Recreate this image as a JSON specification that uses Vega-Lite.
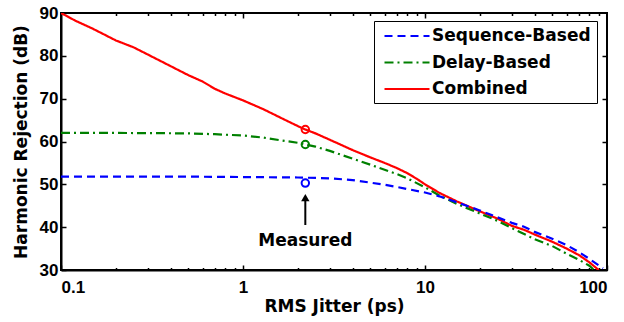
{
  "$schema": "https://vega.github.io/schema/vega-lite/v6.json",
  "autosize": {"type": "none"},
  "width": 546,
  "height": 257,
  "padding": {"left": 61, "top": 13, "right": 17, "bottom": 52},
  "background": "white",
  "config": {
    "view": {"stroke": "black", "strokeWidth": 2},
    "font": "DejaVu Sans",
    "axis": {"grid": false, "labelFont": "Liberation Sans", "labelFontWeight": "bold", "labelFontSize": 17, "labelColor": "black", "titleFont": "DejaVu Sans", "titleFontWeight": "bold", "titleFontSize": 17, "titleColor": "black", "domainColor": "black", "tickColor": "black", "tickWidth": 1.5, "domainWidth": 2}
  },
  "resolve": {"axis": {"x": "independent", "y": "independent"}},
  "datasets": {
    "curves": [
      {"series": "Combined", "x": 0.1, "y": 90},
      {"series": "Combined", "x": 0.12, "y": 88.2},
      {"series": "Combined", "x": 0.15, "y": 86.3},
      {"series": "Combined", "x": 0.2, "y": 83.6},
      {"series": "Combined", "x": 0.25, "y": 82},
      {"series": "Combined", "x": 0.3, "y": 80.3},
      {"series": "Combined", "x": 0.4, "y": 77.6},
      {"series": "Combined", "x": 0.5, "y": 75.5},
      {"series": "Combined", "x": 0.6, "y": 74},
      {"series": "Combined", "x": 0.7, "y": 72.3},
      {"series": "Combined", "x": 0.8, "y": 71.2},
      {"series": "Combined", "x": 1, "y": 69.6},
      {"series": "Combined", "x": 1.3, "y": 67.5},
      {"series": "Combined", "x": 1.6, "y": 65.6},
      {"series": "Combined", "x": 2, "y": 63.6},
      {"series": "Combined", "x": 2.2, "y": 62.8},
      {"series": "Combined", "x": 2.5, "y": 61.9},
      {"series": "Combined", "x": 3, "y": 60.4},
      {"series": "Combined", "x": 4, "y": 58},
      {"series": "Combined", "x": 5, "y": 56.3},
      {"series": "Combined", "x": 6, "y": 55},
      {"series": "Combined", "x": 7, "y": 53.8},
      {"series": "Combined", "x": 8, "y": 52.6},
      {"series": "Combined", "x": 9, "y": 51.3},
      {"series": "Combined", "x": 10, "y": 50},
      {"series": "Combined", "x": 12, "y": 48},
      {"series": "Combined", "x": 15, "y": 46},
      {"series": "Combined", "x": 20, "y": 43.7},
      {"series": "Combined", "x": 25, "y": 42},
      {"series": "Combined", "x": 30, "y": 40.3},
      {"series": "Combined", "x": 35, "y": 39.4},
      {"series": "Combined", "x": 40, "y": 38.3},
      {"series": "Combined", "x": 50, "y": 36.6},
      {"series": "Combined", "x": 60, "y": 35},
      {"series": "Combined", "x": 70, "y": 33.5},
      {"series": "Combined", "x": 80, "y": 31.8},
      {"series": "Combined", "x": 90, "y": 30},
      {"series": "Delay-Based", "x": 0.1, "y": 62},
      {"series": "Delay-Based", "x": 0.2, "y": 62},
      {"series": "Delay-Based", "x": 0.5, "y": 61.9},
      {"series": "Delay-Based", "x": 0.7, "y": 61.7},
      {"series": "Delay-Based", "x": 1, "y": 61.4},
      {"series": "Delay-Based", "x": 1.3, "y": 60.9},
      {"series": "Delay-Based", "x": 1.6, "y": 60.3},
      {"series": "Delay-Based", "x": 2, "y": 59.7},
      {"series": "Delay-Based", "x": 2.2, "y": 59.3},
      {"series": "Delay-Based", "x": 2.5, "y": 58.8},
      {"series": "Delay-Based", "x": 3, "y": 57.8},
      {"series": "Delay-Based", "x": 4, "y": 56},
      {"series": "Delay-Based", "x": 5, "y": 54.6},
      {"series": "Delay-Based", "x": 6, "y": 53.4},
      {"series": "Delay-Based", "x": 7, "y": 52.4},
      {"series": "Delay-Based", "x": 8, "y": 51.4},
      {"series": "Delay-Based", "x": 10, "y": 49.3},
      {"series": "Delay-Based", "x": 12, "y": 47.4},
      {"series": "Delay-Based", "x": 15, "y": 45.4},
      {"series": "Delay-Based", "x": 20, "y": 43.2},
      {"series": "Delay-Based", "x": 25, "y": 41.5},
      {"series": "Delay-Based", "x": 30, "y": 39.8},
      {"series": "Delay-Based", "x": 40, "y": 37.2},
      {"series": "Delay-Based", "x": 50, "y": 35.6},
      {"series": "Delay-Based", "x": 60, "y": 33.8},
      {"series": "Delay-Based", "x": 70, "y": 32.4},
      {"series": "Delay-Based", "x": 80, "y": 31},
      {"series": "Delay-Based", "x": 85, "y": 30},
      {"series": "Sequence-Based", "x": 0.1, "y": 51.8},
      {"series": "Sequence-Based", "x": 0.5, "y": 51.8},
      {"series": "Sequence-Based", "x": 1, "y": 51.7},
      {"series": "Sequence-Based", "x": 2, "y": 51.6},
      {"series": "Sequence-Based", "x": 3, "y": 51.4},
      {"series": "Sequence-Based", "x": 4, "y": 51},
      {"series": "Sequence-Based", "x": 5, "y": 50.4},
      {"series": "Sequence-Based", "x": 6, "y": 49.9},
      {"series": "Sequence-Based", "x": 7, "y": 49.4},
      {"series": "Sequence-Based", "x": 8, "y": 48.9},
      {"series": "Sequence-Based", "x": 10, "y": 48.1},
      {"series": "Sequence-Based", "x": 12, "y": 47.2},
      {"series": "Sequence-Based", "x": 15, "y": 45.8},
      {"series": "Sequence-Based", "x": 20, "y": 43.9},
      {"series": "Sequence-Based", "x": 25, "y": 42.3},
      {"series": "Sequence-Based", "x": 30, "y": 41},
      {"series": "Sequence-Based", "x": 35, "y": 40.1},
      {"series": "Sequence-Based", "x": 40, "y": 38.9},
      {"series": "Sequence-Based", "x": 50, "y": 37.3},
      {"series": "Sequence-Based", "x": 60, "y": 35.8},
      {"series": "Sequence-Based", "x": 70, "y": 34.2},
      {"series": "Sequence-Based", "x": 80, "y": 32.6},
      {"series": "Sequence-Based", "x": 95, "y": 30.4}
    ],
    "measured": [
      {"series": "Combined", "x": 2.2, "y": 62.8},
      {"series": "Delay-Based", "x": 2.2, "y": 59.3},
      {"series": "Sequence-Based", "x": 2.2, "y": 50.3}
    ],
    "arrow": [{"x": 2.2, "y": 40.5, "y2": 46.5, "head": 46.9, "label": "Measured", "ly": 36.8}]
  },
  "layer": [
    {
      "data": {"name": "curves"},
      "mark": {"type": "line", "strokeWidth": 2.2, "clip": true},
      "encoding": {
        "x": {"field": "x", "type": "quantitative", "scale": {"type": "log", "domain": [0.1, 100]},
          "axis": {"orient": "bottom", "values": [0.1, 1, 10, 100], "tickSize": -5, "labelPadding": 14, "title": "RMS Jitter (ps)", "titlePadding": 3, "labelExpr": "format(datum.value, '~g')"}},
        "y": {"field": "y", "type": "quantitative", "scale": {"domain": [30, 90]},
          "axis": {"orient": "left", "values": [30, 40, 50, 60, 70, 80, 90], "tickSize": -5, "labelPadding": 8, "title": "Harmonic Rejection (dB)", "titlePadding": 9}},
        "color": {"field": "series", "type": "nominal",
          "scale": {"domain": ["Sequence-Based", "Delay-Based", "Combined"], "range": ["#0000ff", "#008000", "#ff0000"]},
          "legend": {"title": null, "orient": "none", "legendX": 313, "legendY": 8, "symbolType": "M-3,0H3", "symbolSize": 225, "symbolStrokeWidth": 2.2, "labelFont": "DejaVu Sans", "labelFontWeight": "bold", "labelFontSize": 17, "labelLimit": 300, "labelColor": "black", "strokeColor": "black", "fillColor": "white", "padding": 6, "rowPadding": 9.5, "labelOffset": 16, "symbolOffset": 18}},
        "strokeDash": {"field": "series", "type": "nominal",
          "scale": {"domain": ["Sequence-Based", "Delay-Based", "Combined"], "range": [[8, 5], [9, 4, 2, 4], [1, 0]]},
          "legend": null}
      }
    },
    {
      "data": {"name": "curves"},
      "mark": {"type": "rule"},
      "encoding": {
        "x": {"field": "x", "type": "quantitative", "axis": {"orient": "bottom", "values": [0.2, 0.3, 0.4, 0.5, 0.6, 0.7, 0.8, 0.9, 2, 3, 4, 5, 6, 7, 8, 9, 20, 30, 40, 50, 60, 70, 80, 90], "tickSize": -2.5, "labels": false, "domain": false, "title": null}},
        "opacity": {"value": 0}
      }
    },
    {
      "data": {"name": "curves"},
      "mark": {"type": "rule"},
      "encoding": {
        "x": {"field": "x", "type": "quantitative", "axis": {"orient": "top", "values": [0.2, 0.3, 0.4, 0.5, 0.6, 0.7, 0.8, 0.9, 2, 3, 4, 5, 6, 7, 8, 9, 20, 30, 40, 50, 60, 70, 80, 90], "tickSize": -2.5, "labels": false, "domain": false, "title": null}},
        "opacity": {"value": 0}
      }
    },
    {
      "data": {"name": "curves"},
      "mark": {"type": "rule"},
      "encoding": {
        "x": {"field": "x", "type": "quantitative", "axis": {"orient": "top", "values": [1, 10], "tickSize": -5, "labels": false, "domain": false, "title": null}},
        "y": {"field": "y", "type": "quantitative", "axis": {"orient": "right", "values": [40, 50, 60, 70, 80], "tickSize": -5, "labels": false, "domain": false, "title": null}},
        "opacity": {"value": 0}
      }
    },
    {
      "data": {"name": "measured"},
      "mark": {"type": "point", "filled": false, "size": 55, "strokeWidth": 2, "opacity": 1},
      "encoding": {
        "x": {"field": "x", "type": "quantitative", "axis": null},
        "y": {"field": "y", "type": "quantitative", "axis": null},
        "color": {"field": "series", "type": "nominal", "legend": null}
      }
    },
    {
      "data": {"name": "arrow"},
      "mark": {"type": "rule", "strokeWidth": 2, "color": "black"},
      "encoding": {
        "x": {"field": "x", "type": "quantitative", "axis": null},
        "y": {"field": "y", "type": "quantitative", "axis": null},
        "y2": {"field": "y2"}
      }
    },
    {
      "data": {"name": "arrow"},
      "mark": {"type": "point", "shape": "triangle-up", "filled": true, "color": "black", "size": 70, "opacity": 1},
      "encoding": {
        "x": {"field": "x", "type": "quantitative", "axis": null},
        "y": {"field": "head", "type": "quantitative", "axis": null}
      }
    },
    {
      "data": {"name": "arrow"},
      "mark": {"type": "text", "font": "DejaVu Sans", "fontWeight": "bold", "fontSize": 17, "color": "black", "align": "center", "baseline": "middle"},
      "encoding": {
        "x": {"field": "x", "type": "quantitative", "axis": null},
        "y": {"field": "ly", "type": "quantitative", "axis": null},
        "text": {"field": "label"}
      }
    }
  ]
}
